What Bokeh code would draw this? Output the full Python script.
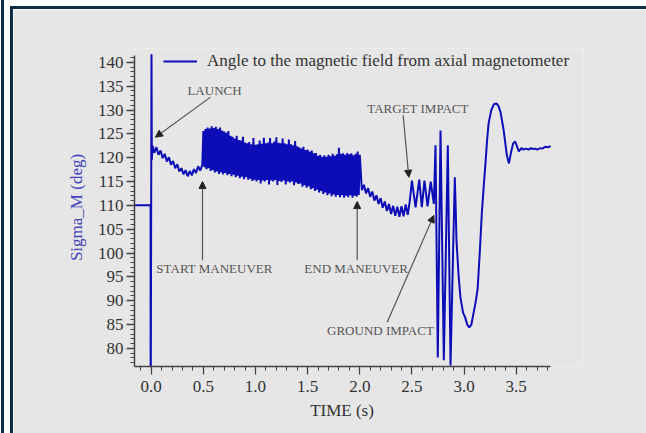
from bokeh.plotting import figure
from bokeh.models import (Range1d, SingleIntervalTicker, NumeralTickFormatter, Arrow,
                          NormalHead)
from bokeh.embed import file_html
from bokeh.resources import INLINE
from bokeh.core.properties import value

# ---------------- data ----------------
pre_t = [-0.16, -0.006, -0.005, 0.003, 0.006, 0.012, 0.03, 0.05, 0.07, 0.09, 0.11, 0.13, 0.15,
         0.17, 0.19, 0.21, 0.23, 0.25, 0.27, 0.29, 0.31, 0.33, 0.35, 0.37, 0.39, 0.41, 0.43,
         0.45, 0.47, 0.49]
pre_v = [110, 110, 60, 141.7, 119.5, 122.5, 121.0, 122.2, 120.6, 121.5, 119.9, 120.8, 119.2,
         120.1, 118.5, 119.3, 117.8, 118.6, 117.1, 117.8, 116.5, 117.4, 116.1, 117.2, 116.3,
         117.6, 116.8, 118.2, 117.3, 118.5]

band_start = 0.50
band_step = 0.01
band_hi = [125.6, 126.0, 126.3, 126.1, 126.6, 126.2, 126.5, 126.0, 126.3, 125.7,
           125.5, 125.2, 125.6, 124.6, 124.4, 124.0, 124.6, 123.7, 123.6, 124.4,
           123.2, 123.0, 123.3, 122.8, 124.1, 122.7, 122.8, 123.6, 122.9, 124.2,
           123.0, 123.2, 124.1, 123.0, 123.4, 124.3, 123.1, 123.0, 124.0, 123.0,
           122.8, 123.8, 122.8, 122.6, 123.5, 122.4, 122.2, 121.9, 122.3, 121.6,
           121.7, 121.3, 121.5, 120.9, 121.0, 120.4, 120.6, 120.2, 120.5, 120.2,
           120.6, 120.3, 120.8, 120.4, 120.7, 122.1, 120.8, 120.9, 120.6, 121.0,
           120.7, 120.9, 120.5, 120.8, 121.3, 120.6]
band_lo = [118.0, 117.6, 117.8, 117.2, 117.4, 116.9, 117.1, 116.6, 116.9, 116.5,
           116.8, 116.3, 116.6, 116.1, 116.4, 115.9, 116.2, 115.7, 116.0, 115.5,
           115.9, 115.4, 115.6, 115.1, 115.4, 115.0, 115.3, 114.6, 115.2, 115.0,
           115.3, 114.4, 115.2, 115.0, 115.3, 114.3, 115.1, 114.9, 115.2, 114.4,
           115.0, 114.8, 115.0, 114.2, 114.8, 114.5, 114.6, 113.9, 114.2, 113.7,
           114.0, 113.4, 113.6, 113.0, 113.3, 112.7, 113.0, 112.4, 112.7, 112.1,
           112.5, 111.9, 112.3, 111.8, 112.2, 111.7, 112.1, 111.6, 112.0, 111.7,
           112.1, 111.6, 112.0, 111.8, 112.2]

post_t = [2.02, 2.04, 2.06, 2.08, 2.10, 2.12, 2.14, 2.16, 2.18, 2.20, 2.22, 2.24, 2.26, 2.28,
          2.30, 2.32, 2.34, 2.36, 2.38, 2.40, 2.42, 2.44, 2.46, 2.48,
          2.50, 2.535, 2.57, 2.595, 2.62, 2.65, 2.68, 2.71,
          2.726, 2.748, 2.774, 2.806, 2.844, 2.87, 2.911,
          2.92, 2.927, 2.946, 2.965, 2.99, 3.01, 3.03, 3.05, 3.07, 3.09, 3.11, 3.13, 3.15,
          3.17, 3.19, 3.205, 3.22, 3.235, 3.26, 3.285, 3.31, 3.33, 3.35, 3.38, 3.41, 3.43,
          3.45, 3.47, 3.49, 3.51, 3.525, 3.55, 3.57, 3.59, 3.62, 3.64, 3.66, 3.68, 3.70,
          3.73, 3.75, 3.78, 3.80, 3.83]
post_v = [113.2, 114.3, 112.5, 113.6, 111.8, 112.9, 111.0, 112.1, 110.3, 111.5, 109.5, 110.8,
          108.8, 110.3, 108.2, 109.9, 107.8, 109.7, 107.6, 109.8, 107.7, 110.2, 108.0, 111.0,
          115.2, 109.6, 115.4, 109.6, 115.2, 109.8, 115.0, 110.3,
          122.6, 78.1, 125.7, 77.5, 122.6, 76.4, 115.9,
          109.0, 102.7, 95.7, 90.7, 87.5, 86.5, 85.0, 84.4, 85.0, 87.3, 89.6, 92.5, 99.9,
          108.3, 114.5, 118.8, 123.5, 127.2, 129.9, 131.2, 131.4, 130.8, 129.5, 125.7, 120.5,
          118.8, 121.1, 123.0, 123.4, 122.2, 121.3, 122.0, 121.7, 121.9, 121.7, 122.0, 121.8,
          121.9, 121.7, 122.0, 121.9, 122.3, 122.2, 122.4]

legend_text = "Angle to the magnetic field from axial magnetometer"
x_label = "TIME (s)"
y_label = "Sigma_M (deg)"
x_ticks_interval = 0.5
y_ticks_interval = 5
x_axis_span = (-0.16, 3.83)
y_axis_span = (76.2, 141.4)

# annotation table
ann_text = ["LAUNCH", "START MANEUVER", "END MANEUVER", "TARGET IMPACT", "GROUND IMPACT"]
ann_x = [0.607, 0.607, 1.965, 2.558, 2.198]
ann_y = [134.1, 96.8, 96.8, 130.35, 83.7]
arr_x0 = [0.569, 0.492, 1.975, 2.416, 2.263]
arr_y0 = [132.7, 98.5, 98.5, 128.9, 85.5]
arr_x1 = [0.041, 0.492, 1.975, 2.470, 2.710]
arr_y1 = [124.3, 115.0, 110.8, 115.9, 107.9]

# assemble trace
band_t, band_v = [], []
for i, hv in enumerate(band_hi):
    band_t.append(round(band_start + 2 * i * band_step, 3))
    band_v.append(hv)
    if i < len(band_lo):
        band_t.append(round(band_start + (2 * i + 1) * band_step, 3))
        band_v.append(band_lo[i])
t_all = pre_t + band_t + post_t
v_all = pre_v + band_v + post_v

# ---------------- figure ----------------
PANEL = "#e6e6e6"
NAVY = "#0f2d48"
SERIF = "Liberation Serif"

shadow = ", ".join([
    f"-3px -3px 0 0 {NAVY}", f"0 -3px 0 0 {NAVY}", f"-3px 0 0 0 {NAVY}",
    "-9px -9px 0 0 white", "0 -9px 0 0 white", "-9px 0 0 0 white",
    f"-12px -9px 0 0 {NAVY}", f"-12px 0 0 0 {NAVY}",
])

p = figure(width=633, height=424, output_backend="svg", toolbar_location=None,
           x_range=Range1d(-0.16, 4.145), y_range=Range1d(76.2, 142.9),
           min_border_left=121, min_border_right=63, min_border_top=39, min_border_bottom=67,
           styles={"margin-left": "13px", "margin-top": "9px", "box-shadow": shadow})
p.background_fill_color = PANEL
p.border_fill_color = PANEL
p.outline_line_color = None
p.xgrid.grid_line_color = None
p.ygrid.grid_line_color = None

p.line(t_all, v_all, line_color="#0d0db8", line_width=2, legend_label=legend_text)

# axes
p.xaxis.ticker = SingleIntervalTicker(interval=x_ticks_interval, num_minor_ticks=5)
p.yaxis.ticker = SingleIntervalTicker(interval=y_ticks_interval, num_minor_ticks=5)
p.xaxis.formatter = NumeralTickFormatter(format="0.0")
p.xaxis.bounds = x_axis_span
p.yaxis.bounds = y_axis_span
for ax in (p.xaxis[0], p.yaxis[0]):
    ax.axis_line_color = "#444444"
    ax.axis_line_width = 1.5
    ax.major_tick_line_color = "#444444"
    ax.minor_tick_line_color = "#444444"
    ax.major_tick_line_width = 1.3
    ax.major_tick_out = 8
    ax.major_tick_in = 0
    ax.minor_tick_out = 4
    ax.minor_tick_in = 0
    ax.major_label_text_font = SERIF
    ax.major_label_text_font_size = "17px"
    ax.major_label_text_color = "#333333"
    ax.axis_label_text_font = SERIF
    ax.axis_label_text_font_size = "17px"
    ax.axis_label_text_font_style = "normal"
# the frame is widened on the right for the legend; pad the label so it stays centred
# under the drawn part of the axis
p.xaxis.axis_label = x_label + "\u00a0" * 8
p.xaxis.axis_label_text_color = "#333333"
p.xaxis.major_label_standoff = 6
p.xaxis.axis_label_standoff = 6
p.yaxis.axis_label = y_label
p.yaxis.axis_label_text_color = "#4444bb"
p.yaxis.major_label_standoff = 3
p.yaxis.axis_label_standoff = 9

# legend
lg = p.legend[0]
lg.location = (29, 295)
lg.label_text_font = SERIF
lg.label_text_font_size = "17px"
lg.label_text_color = "#333333"
lg.glyph_width = 34
lg.label_standoff = 10
lg.padding = 0
lg.margin = 0
lg.border_line_color = None
lg.background_fill_alpha = 0

# annotations
for i in range(len(ann_text)):
    p.add_layout(Arrow(end=NormalHead(size=7, fill_color="#222222", line_color="#222222"),
                       x_start=arr_x0[i], y_start=arr_y0[i], x_end=arr_x1[i], y_end=arr_y1[i],
                       line_color="#555555", line_width=1.2))
p.text(x=ann_x, y=ann_y, text=ann_text, text_font=value(SERIF), text_font_size="13px",
       text_color="#555555", text_align="center", text_baseline="middle")

open("out.html", "w").write(file_html(p, INLINE))
